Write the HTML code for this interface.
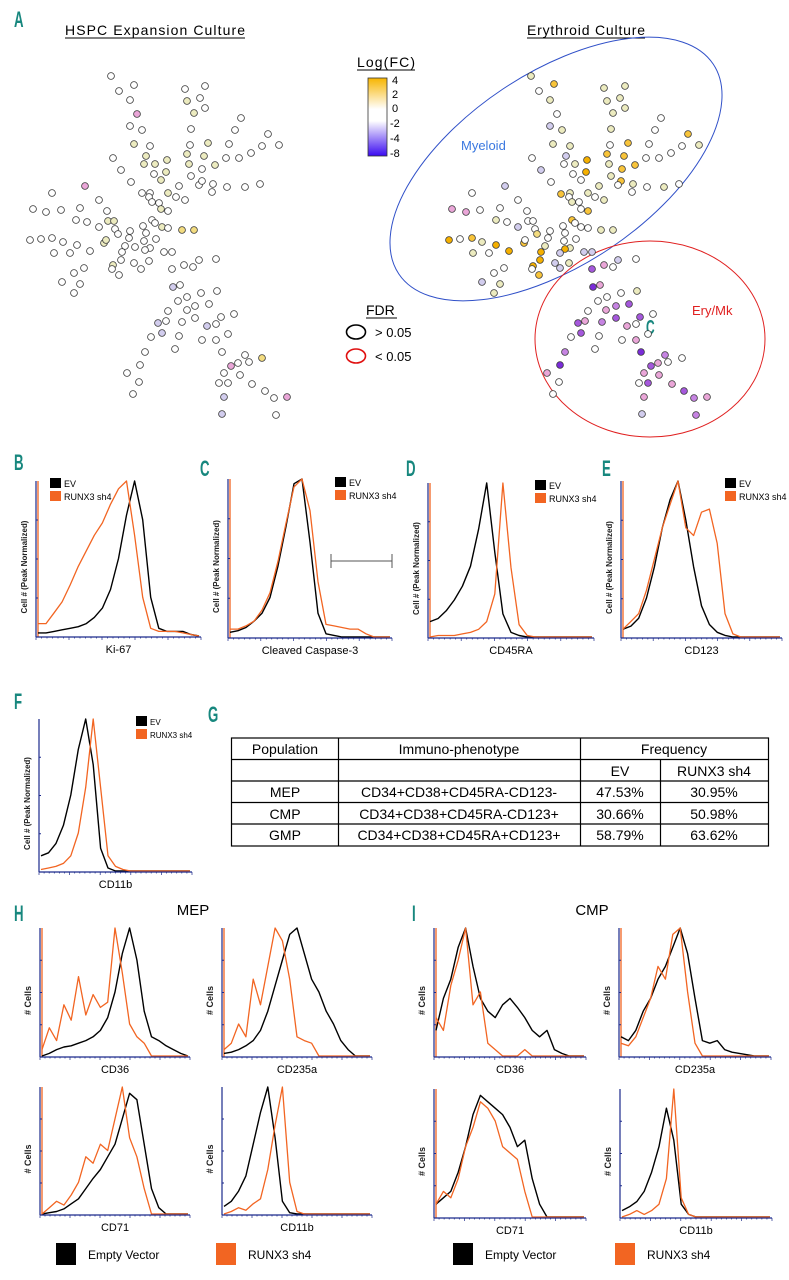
<!DOCTYPE html>
<html><head><meta charset="utf-8"><style>
html,body{margin:0;padding:0;background:#fff;}
svg{display:block;font-family:"Liberation Sans",sans-serif;}
</style></head><body>
<svg id="fig" width="789" height="1280" viewBox="0 0 789 1280" xmlns="http://www.w3.org/2000/svg">
<defs>
<linearGradient id="fcgrad" x1="0" y1="0" x2="0" y2="1">
<stop offset="0" stop-color="#f7b500"/><stop offset="0.4" stop-color="#fff"/><stop offset="0.55" stop-color="#fff"/><stop offset="1" stop-color="#3a0af0"/>
</linearGradient>
</defs>
<g>
<text x="14" y="27" font-size="22" font-weight="bold" fill="#17877e" transform="translate(14 0) scale(0.6 1) translate(-14 0)">A</text>
<text x="65" y="35" font-size="14" textLength="180">HSPC Expansion Culture</text>
<line x1="65" y1="38" x2="245" y2="38" stroke="#000" stroke-width="1"/>
<text x="527" y="35" font-size="14" textLength="118">Erythroid Culture</text>
<line x1="527" y1="38" x2="645" y2="38" stroke="#000" stroke-width="1"/>
<text x="357" y="67" font-size="14" textLength="58">Log(FC)</text>
<line x1="357" y1="70" x2="415" y2="70" stroke="#000" stroke-width="1"/>
<rect x="368" y="78" width="19" height="78" fill="url(#fcgrad)" stroke="#333" stroke-width="0.8"/>
<g font-size="11">
<text x="392" y="84">4</text><text x="392" y="98">2</text><text x="392" y="112">0</text><text x="390" y="127">-2</text><text x="390" y="142">-4</text><text x="390" y="157">-8</text>
</g>
<text x="366" y="315" font-size="14">FDR</text>
<line x1="366" y1="318" x2="397" y2="318" stroke="#000" stroke-width="1"/>
<ellipse cx="356" cy="332" rx="9.5" ry="7" fill="none" stroke="#000" stroke-width="1.6"/>
<text x="375" y="337" font-size="13">&gt; 0.05</text>
<ellipse cx="356" cy="356" rx="9.5" ry="7" fill="none" stroke="#e01010" stroke-width="1.6"/>
<text x="375" y="361" font-size="13">&lt; 0.05</text>
<ellipse cx="556" cy="169" rx="189" ry="96" transform="rotate(-33.7 556 169)" fill="none" stroke="#3050c8" stroke-width="1"/>
<ellipse cx="650" cy="339" rx="115" ry="98" fill="none" stroke="#e02020" stroke-width="1"/>
<text x="461" y="150" font-size="13" fill="#3a78e0">Myeloid</text>
<text x="692" y="315" font-size="13" fill="#e02020">Ery/Mk</text>
<text x="646" y="334" font-size="20" font-weight="bold" fill="#17877e" transform="translate(646 0) scale(0.6 1) translate(-646 0)">C</text>
<g id="hspcDots"></g>
<g id="eryDots"></g>
</g>
<g id="hists"></g>
<g>
<text x="208" y="722" font-size="22" font-weight="bold" fill="#17877e" transform="translate(208 0) scale(0.6 1) translate(-208 0)">G</text>
<g stroke="#000" stroke-width="1.2" fill="none">
<rect x="231.5" y="738" width="537" height="108"/>
<line x1="231" y1="759.5" x2="768" y2="759.5"/><line x1="231" y1="781" x2="768" y2="781"/><line x1="231" y1="802.5" x2="768" y2="802.5"/><line x1="231" y1="824" x2="768" y2="824"/>
<line x1="338.5" y1="738" x2="338.5" y2="846"/><line x1="580.5" y1="738" x2="580.5" y2="846"/><line x1="660.5" y1="759.5" x2="660.5" y2="846"/>
</g>
<g font-size="14" text-anchor="middle" fill="#000">
<text x="285" y="754">Population</text>
<text x="459" y="754">Immuno-phenotype</text>
<text x="674" y="754">Frequency</text>
<text x="620" y="776">EV</text>
<text x="714" y="776">RUNX3 sh4</text>
<text x="285" y="797">MEP</text><text x="459" y="797">CD34+CD38+CD45RA-CD123-</text><text x="620" y="797">47.53%</text><text x="714" y="797">30.95%</text>
<text x="285" y="819">CMP</text><text x="459" y="819">CD34+CD38+CD45RA-CD123+</text><text x="620" y="819">30.66%</text><text x="714" y="819">50.98%</text>
<text x="285" y="840">GMP</text><text x="459" y="840">CD34+CD38+CD45RA+CD123+</text><text x="620" y="840">58.79%</text><text x="714" y="840">63.62%</text>
</g>
</g>
<g>
<text x="14" y="921" font-size="22" font-weight="bold" fill="#17877e" transform="translate(14 0) scale(0.6 1) translate(-14 0)">H</text>
<text x="193" y="915" font-size="15" text-anchor="middle">MEP</text>
<text x="412" y="921" font-size="22" font-weight="bold" fill="#17877e" transform="translate(412 0) scale(0.6 1) translate(-412 0)">I</text>
<text x="592" y="915" font-size="15" text-anchor="middle">CMP</text>
<rect x="56" y="1243" width="20" height="22" fill="#000"/>
<text x="88" y="1259" font-size="12">Empty Vector</text>
<rect x="216" y="1243" width="20" height="22" fill="#f26522"/>
<text x="248" y="1259" font-size="12">RUNX3 sh4</text>
<rect x="453" y="1243" width="20" height="22" fill="#000"/>
<text x="485" y="1259" font-size="12">Empty Vector</text>
<rect x="615" y="1243" width="20" height="22" fill="#f26522"/>
<text x="647" y="1259" font-size="12">RUNX3 sh4</text>
</g>
</svg>
<script>
// ---- Panel A network data: [x, y, logFC] ----
const hspcNodes = [[111,76,0],[119,91,0],[134,85,0],[130,100,0],[137,114,-2],[130,126,0],[142,130,0],[185,89,0],[205,86,0],[187,101,1],[200,98,0],[205,108,0],[194,113,1],[241,118,0],[191,129,0],[235,130,0],[268,134,0],[134,144,1],[150,146,0],[190,145,0],[208,143,1],[229,144,0],[262,146,0],[279,145,0],[113,158,0],[146,156,1],[187,154,1],[204,156,1],[226,158,0],[239,158,0],[251,153,0],[121,170,0],[144,164,1],[155,164,1],[167,160,1],[189,164,1],[202,169,0],[215,165,1],[154,174,0],[166,172,1],[161,180,1],[191,176,0],[131,182,0],[85,186,-2],[199,185,0],[202,181,0],[213,184,0],[227,187,0],[245,187,0],[260,184,0],[179,186,0],[212,192,0],[52,193,0],[142,193,0],[150,193,0],[168,193,1],[176,197,0],[185,200,0],[149,197,0],[99,200,0],[152,202,0],[159,203,0],[33,209,0],[46,212,0],[61,210,0],[80,208,0],[107,211,0],[161,209,1],[168,211,0],[76,220,0],[87,222,0],[108,221,1],[114,221,1],[152,220,0],[99,227,0],[115,229,0],[143,226,0],[155,223,0],[162,227,1],[168,228,0],[182,230,2],[194,230,2],[30,240,0],[41,239,0],[52,238,0],[63,242,0],[77,245,0],[54,253,0],[70,253,0],[90,251,0],[104,243,1],[106,240,1],[118,234,0],[130,231,0],[129,238,0],[125,246,0],[122,252,0],[135,247,0],[144,241,0],[146,233,0],[156,239,0],[150,248,0],[145,250,0],[164,252,0],[172,252,0],[74,273,0],[84,268,0],[62,282,0],[80,284,0],[74,293,0],[113,265,1],[112,269,0],[119,275,0],[121,260,0],[134,263,0],[141,269,0],[149,261,0],[172,269,0],[184,265,0],[193,267,0],[199,260,0],[216,259,0],[173,287,-1],[180,285,0],[187,297,0],[178,301,0],[201,293,0],[217,291,0],[195,306,0],[187,310,0],[209,304,0],[168,311,0],[158,323,-1],[166,321,0],[182,322,0],[195,318,0],[207,326,-1],[216,324,0],[221,317,0],[234,314,0],[151,337,0],[162,333,-1],[179,336,0],[175,349,0],[202,340,0],[216,340,0],[228,334,0],[145,352,0],[140,365,0],[127,373,0],[139,382,0],[133,394,0],[222,352,0],[245,355,0],[262,358,2],[238,363,0],[249,362,0],[231,366,-2],[224,373,0],[240,375,0],[219,383,0],[228,383,0],[252,384,0],[265,391,0],[274,398,0],[287,397,-2],[224,397,-1],[222,414,-1],[276,415,0]];
const eryNodes = [[531,76,1],[554,84,3],[539,91,0],[550,100,1],[604,88,1],[625,86,1],[607,101,1],[620,98,1],[625,108,1],[613,113,1],[661,118,0],[557,114,0],[550,126,-1],[562,130,1],[611,129,1],[655,130,0],[688,134,3],[553,144,1],[570,146,1],[610,145,0],[628,143,3],[649,144,0],[682,146,0],[699,145,1],[532,158,0],[566,156,-1],[587,160,4],[607,154,3],[624,156,3],[646,158,0],[659,158,0],[671,153,0],[541,170,-1],[564,164,0],[575,164,1],[609,164,1],[622,169,3],[635,165,3],[573,174,0],[586,172,4],[581,180,0],[611,176,1],[551,182,0],[505,186,-1],[599,186,1],[621,181,3],[618,185,0],[633,184,1],[647,187,0],[664,187,1],[679,184,0],[632,192,0],[472,193,0],[561,194,3],[570,193,1],[588,193,1],[595,197,0],[604,200,1],[569,197,0],[518,200,0],[572,202,1],[579,202,0],[452,209,-2],[466,212,-2],[480,210,0],[500,208,0],[527,211,0],[581,209,0],[588,211,3],[496,220,1],[507,222,0],[528,221,0],[533,221,0],[572,220,3],[518,227,-1],[535,229,0],[563,226,0],[575,223,0],[581,227,0],[588,228,0],[601,230,1],[613,230,1],[449,240,4],[460,239,0],[472,238,3],[482,242,1],[496,245,4],[473,253,1],[489,253,0],[509,251,4],[524,243,3],[525,240,0],[537,234,2],[550,231,0],[548,238,0],[545,246,1],[541,252,4],[564,241,0],[565,233,0],[576,239,0],[570,248,1],[565,249,4],[584,252,-1],[592,252,-1],[560,253,-1],[540,260,4],[555,263,-1],[569,263,1],[560,268,-1],[533,266,4],[532,269,0],[539,275,3],[494,273,0],[504,268,0],[482,282,-1],[500,284,1],[494,293,1],[592,269,-4],[604,265,-2],[613,267,0],[618,260,-1],[636,259,0],[593,287,-6],[600,285,-2],[607,297,0],[598,301,0],[621,293,0],[637,291,1],[616,306,-3],[606,310,-2],[629,304,-4],[588,311,0],[578,323,-4],[585,321,-2],[602,322,-3],[616,318,-4],[627,326,-2],[636,324,0],[640,317,-4],[653,314,0],[571,337,0],[581,333,-4],[599,336,0],[595,349,0],[622,340,0],[636,340,-2],[648,334,0],[565,352,-3],[560,365,-6],[547,373,-2],[559,382,0],[553,394,0],[641,352,-6],[665,355,-3],[682,358,0],[658,363,-2],[668,362,0],[651,366,-4],[644,373,-2],[659,375,-2],[639,383,0],[648,383,-4],[672,384,-2],[684,391,-4],[694,398,-3],[707,397,-2],[644,397,-2],[642,414,-1],[696,415,-3]];
const fcLevels = [4,3,2,1,0,-1,-2,-3,-4,-6];
const fcColors = ['#f5b000','#f8c43a','#f3dc80','#ecebbf','#ffffff','#d2cdee','#eaa6d8','#c684e2','#a558dc','#7a2cd8'];
function fcColor(v){let best=0,d=1e9;fcLevels.forEach((l,i)=>{const e=Math.abs(l-v);if(e<d){d=e;best=i;}});return fcColors[best];}
const NS='http://www.w3.org/2000/svg';
function mk(tag,attrs,parent){const e=document.createElementNS(NS,tag);for(const k in attrs)e.setAttribute(k,attrs[k]);parent.appendChild(e);return e;}
function drawNodes(nodes,gid,name){const g=document.getElementById(gid);nodes.forEach(n=>{const c=mk('circle',{cx:n[0],cy:n[1],r:3.4,fill:fcColor(n[2]),stroke:'#3a3a3a','stroke-width':0.8},g);

});}
drawNodes(hspcNodes,'hspcDots','hspc-node');
drawNodes(eryNodes,'eryDots','erythroid-node');

// ---- Histogram data (normalized counts at 21 evenly spaced bins) ----
const ki67EV   =[0.02,.02,.03,.04,.05,.06,.08,.12,.18,.3,.5,.78,1,.75,.25,.05,.03,.03,.03,.01,0];
const ki67Sh4  =[.08,.08,.15,.22,.33,.45,.55,.65,.73,.85,.95,1,.65,.25,.05,.03,.03,.03,.02,.01,0];
const caspEV   =[.03,.04,.06,.1,.15,.25,.45,.7,.97,1,.6,.15,.02,.01,0,0,0,0,0,0,0];
const caspSh4  =[.05,.05,.07,.1,.17,.28,.48,.72,.95,1,.8,.35,.08,.07,.06,.05,.05,.02,0,0,0];
const cd45EV   =[.1,.12,.17,.24,.33,.46,.7,1,.55,.15,.03,.01,0,0,0,0,0,0,0,0,0];
const cd45Sh4  =[0,.01,.01,.01,.02,.03,.05,.1,.28,1,.45,.08,.01,0,0,0,0,0,0,0,0];
const cd123EV  =[.05,.07,.12,.25,.45,.7,.88,1,.75,.45,.2,.08,.03,.01,0,0,0,0,0,0,0];
const cd123Sh4 =[.05,.1,.15,.3,.5,.7,.85,1,.7,.65,.8,.82,.6,.15,.02,0,0,0,0,0,0];
const fcd11EV  =[.1,.12,.18,.3,.5,.8,1,.7,.15,.02,0,0,0,0,0,0,0,0,0,0,0];
const fcd11Sh4 =[.01,.02,.03,.05,.1,.25,.55,1,.55,.1,.03,.01,0,0,0,0,0,0,0,0,0];
const mepCD36EV  =[0,.02,.05,.07,.08,.1,.12,.15,.2,.3,.5,.8,1,.75,.35,.15,.12,.08,.05,.02,0];
const mepCD36Sh4 =[.05,.22,.12,.4,.28,.62,.32,.48,.38,.42,1,.65,.25,.15,.1,0,0,0,0,0,0];
const mepGPAEV   =[.02,.03,.05,.08,.12,.2,.35,.55,.75,.95,1,.8,.6,.5,.35,.25,.12,.05,0,0,0];
const mepGPASh4  =[.05,.1,.25,.15,.6,.4,.7,1,.9,.6,.15,.12,.1,0,0,0,0,0,0,0,0];
const mepCD71EV  =[0,.01,.02,.04,.08,.12,.2,.28,.35,.45,.55,.75,.95,.9,.55,.2,.05,0,0,0,0];
const mepCD71Sh4 =[0,.05,.1,.07,.15,.25,.45,.4,.55,.5,.75,1,.6,.45,.2,0,0,0,0,0,0];
const mepCD11EV  =[.06,.1,.18,.3,.55,.8,1,.6,.1,.01,0,0,0,0,0,0,0,0,0,0,0];
const mepCD11Sh4 =[0,.02,.05,.03,.08,.12,.35,.7,1,.25,.02,0,0,0,0,0,0,0,0,0,0];
const cmpCD36EV  =[.2,.45,.6,.85,1,.7,.45,.35,.3,.4,.45,.38,.3,.2,.15,.2,.05,.02,0,0,0];
const cmpCD36Sh4 =[.3,.2,.55,.75,1,.4,.5,.1,.05,0,0,0,.05,0,0,0,0,0,0,0,0];
const cmpGPAEV   =[.15,.12,.2,.35,.45,.6,.7,.85,1,.8,.45,.12,.1,.12,.05,.03,.02,.01,0,0,0];
const cmpGPASh4  =[.1,.08,.15,.3,.45,.7,.6,.95,1,.5,.1,0,0,0,0,0,0,0,0,0,0];
const cmpCD71EV  =[.1,.15,.2,.35,.55,.8,.95,.9,.85,.8,.7,.55,.6,.3,.1,0,0,0,0,0,0];
const cmpCD71Sh4 =[.1,.2,.15,.3,.55,.7,.9,.85,.75,.55,.5,.45,.2,0,0,0,0,0,0,0,0];
const cmpCD11EV  =[.05,.08,.12,.2,.35,.55,.85,.6,.1,.02,0,0,0,0,0,0,0,0,0,0,0];
const cmpCD11Sh4 =[0,.02,.05,.02,.05,.1,.3,1,.15,.02,0,0,0,0,0,0,0,0,0,0,0];

const H=document.getElementById('hists');
function hist(name,L,T,R,B,ev,sh,xlab,ylab,yfs,legend,leftLine){
  const g=mk('g',{},H);
  
  
  const n=ev.length;
  const xs=i=>L+2+(R-L-4)*i/(n-1);
  const ys=v=>B-1-(B-T-1)*v;
  if(leftLine) mk('line',{x1:L+2,y1:B,x2:L+2,y2:T,stroke:'#f26522','stroke-width':1.3},g);
  const pts=a=>a.map((v,i)=>xs(i).toFixed(1)+','+ys(v).toFixed(1)).join(' ');
  const pe=mk('polyline',{points:pts(ev),fill:'none',stroke:'#000','stroke-width':1.4,'stroke-linejoin':'round'},g);
  
  
  const po=mk('polyline',{points:pts(sh),fill:'none',stroke:'#f26522','stroke-width':1.3,'stroke-linejoin':'round'},g);
  
  
  mk('line',{x1:L,y1:T,x2:L,y2:B,stroke:'#1c2a8c','stroke-width':1.2},g);
  mk('line',{x1:L,y1:B,x2:R,y2:B,stroke:'#1c2a8c','stroke-width':1.2},g);
  for(let k=1;k<4;k++){const y=B-(B-T)*k/4;mk('line',{x1:L,y1:y,x2:L+2,y2:y,stroke:'#1c2a8c','stroke-width':1},g);}
  for(let k=0;k<=30;k++){const x=L+(R-L)*k/30;mk('line',{x1:x,y1:B,x2:x,y2:B+(k%6==0?3:1.5),stroke:'#1c2a8c','stroke-width':0.7},g);}
  const xl=mk('text',{x:(L+R)/2,y:B+16,'font-size':11,'text-anchor':'middle'},g);xl.textContent=xlab;
  
  
  const yx=L-9, yc=(T+B)/2+8;
  const yl=mk('text',{x:yx,y:yc,'font-size':yfs,'font-weight':'bold','text-anchor':'middle',transform:`rotate(-90 ${yx} ${yc})`,fill:'#222'},g);yl.textContent=ylab;
  
  
  if(legend){const [lx,ly,lfs]=legend;
    mk('rect',{x:lx,y:ly,width:11,height:10,fill:'#000'},g);
    mk('rect',{x:lx,y:ly+13,width:11,height:10,fill:'#f26522'},g);
    const t1=mk('text',{x:lx+14,y:ly+9,'font-size':lfs},g);t1.textContent='EV';
    
    
    const t2=mk('text',{x:lx+14,y:ly+22,'font-size':lfs},g);t2.textContent='RUNX3 sh4';
    
    
  }
}
const PN='Cell # (Peak Normalized)';
hist('hist-b-ki67',36,481,201,637,ki67EV,ki67Sh4,'Ki-67',PN,8,[50,478,9],true);
hist('hist-c-caspase',228,479,392,638,caspEV,caspSh4,'Cleaved Caspase-3',PN,8,[335,477,9],true);
hist('hist-d-cd45ra',428,483,594,638,cd45EV,cd45Sh4,'CD45RA',PN,8,[535,480,9],true);
hist('hist-e-cd123',621,481,782,638,cd123EV,cd123Sh4,'CD123',PN,8,[725,478,9],true);
hist('hist-f-cd11b',39,719,192,872,fcd11EV,fcd11Sh4,'CD11b',PN,8,[136,716,8],false);
hist('hist-h-cd36',40,928,190,1057,mepCD36EV,mepCD36Sh4,'CD36','# Cells',9,null,true);
hist('hist-h-cd235a',222,928,372,1057,mepGPAEV,mepGPASh4,'CD235a','# Cells',9,null,true);
hist('hist-h-cd71',40,1087,190,1215,mepCD71EV,mepCD71Sh4,'CD71','# Cells',9,null,true);
hist('hist-h-cd11b',222,1087,372,1215,mepCD11EV,mepCD11Sh4,'CD11b','# Cells',9,null,false);
hist('hist-i-cd36',434,928,586,1057,cmpCD36EV,cmpCD36Sh4,'CD36','# Cells',9,null,true);
hist('hist-i-cd235a',619,928,771,1057,cmpGPAEV,cmpGPASh4,'CD235a','# Cells',9,null,true);
hist('hist-i-cd71',434,1089,586,1218,cmpCD71EV,cmpCD71Sh4,'CD71','# Cells',9,null,true);
hist('hist-i-cd11b',620,1089,772,1218,cmpCD11EV,cmpCD11Sh4,'CD11b','# Cells',9,null,false);

// panel letters B-F and scale bar
const letters=[['B',14,470],['C',200,476],['D',406,476],['E',602,476],['F',14,709]];
letters.forEach(l=>{const t=mk('text',{x:l[1],y:l[2],'font-size':22,'font-weight':'bold',fill:'#17877e',transform:`translate(${l[1]} 0) scale(0.6 1) translate(${-l[1]} 0)`},H);t.textContent=l[0];

});
const sb=mk('g',{stroke:'#555','stroke-width':1},H);


mk('line',{x1:331,y1:561,x2:392,y2:561},sb);mk('line',{x1:331,y1:554,x2:331,y2:568},sb);mk('line',{x1:392,y1:554,x2:392,y2:568},sb);
</script>
</body></html>
